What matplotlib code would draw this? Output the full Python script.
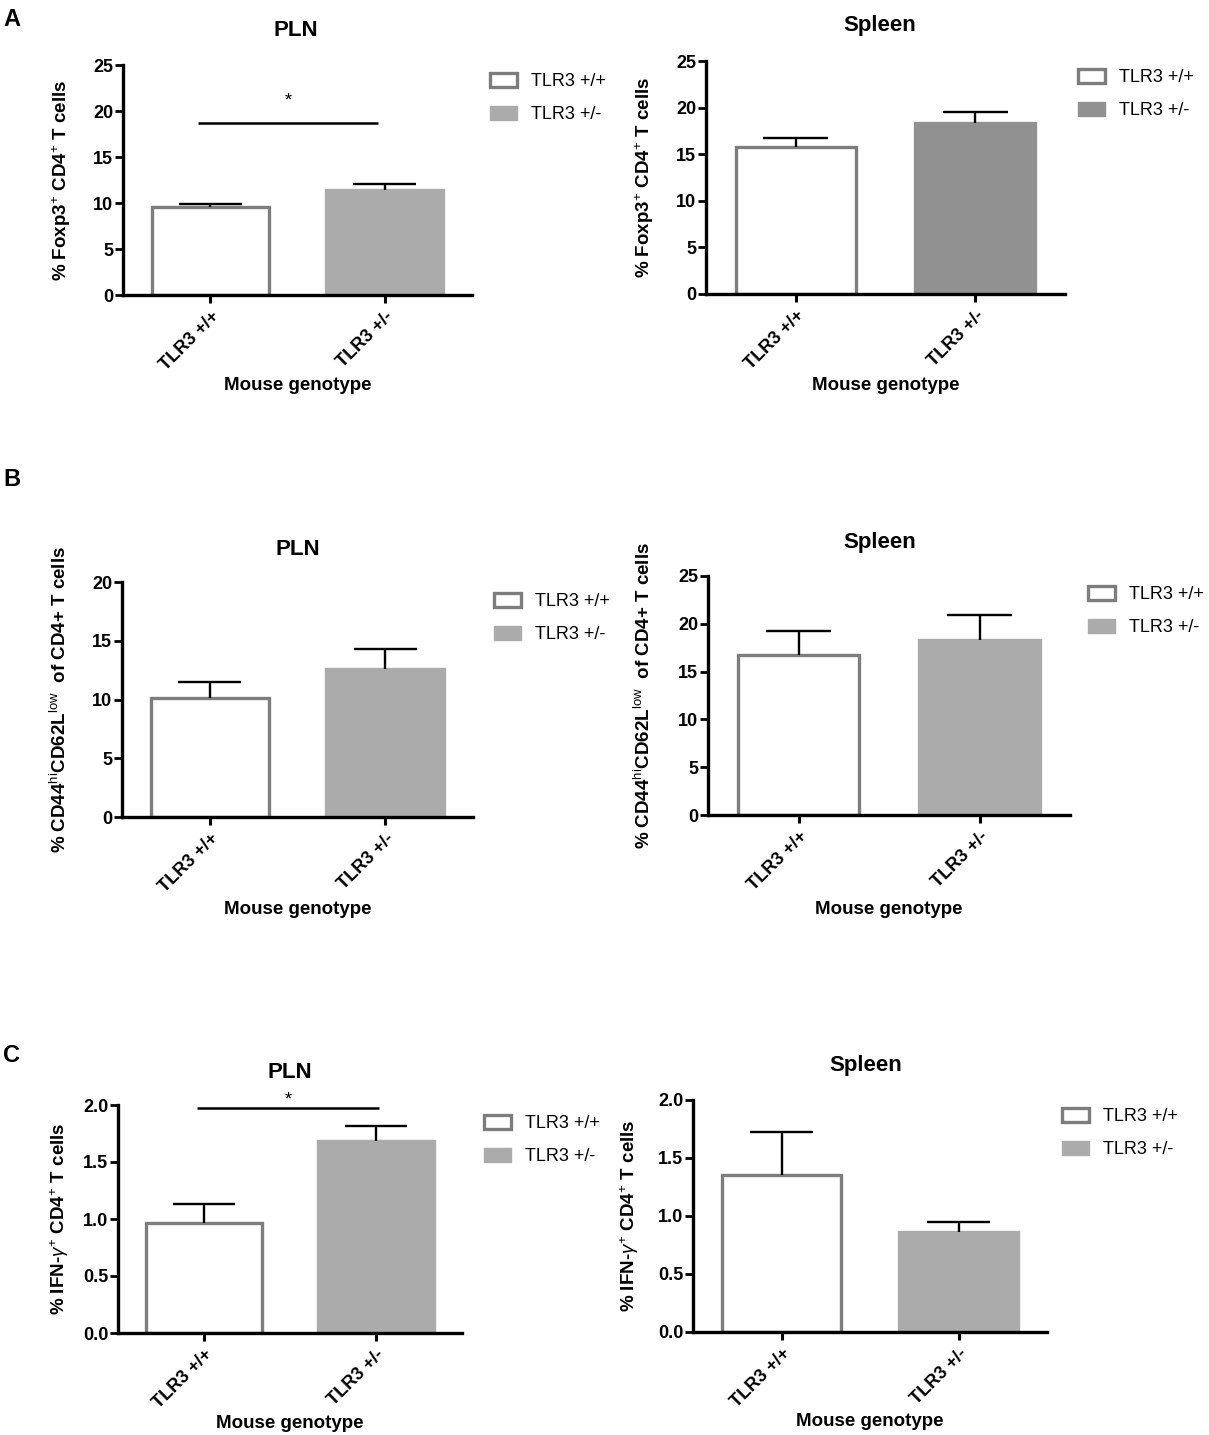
import matplotlib
matplotlib.use("Agg")
import matplotlib.pyplot as plt
from matplotlib.patches import Patch
import numpy as np

plt.rcParams['font.family'] = ['Liberation Sans', 'DejaVu Sans']
plt.rcParams['mathtext.fontset'] = 'custom'
plt.rcParams['mathtext.rm'] = 'Liberation Sans'
plt.rcParams['mathtext.it'] = 'Liberation Sans:italic'
plt.rcParams['mathtext.bf'] = 'Liberation Sans:bold'

# ---------------- data ----------------
groups = ['TLR3 +/+', 'TLR3 +/-']

foxp3_pln_mean = [9.6, 11.45]
foxp3_pln_sem = [0.3, 0.6]
foxp3_spleen_mean = [15.75, 18.3]
foxp3_spleen_sem = [0.95, 1.2]

cd44_pln_mean = [10.1, 12.6]
cd44_pln_sem = [1.35, 1.7]
cd44_spleen_mean = [16.7, 18.3]
cd44_spleen_sem = [2.5, 2.65]

ifng_pln_mean = [0.965, 1.68]
ifng_pln_sem = [0.165, 0.14]
ifng_spleen_mean = [1.35, 0.86]
ifng_spleen_sem = [0.37, 0.09]

foxp3_yticks = [0, 5, 10, 15, 20, 25]
cd44_pln_yticks = [0, 5, 10, 15, 20]
cd44_spleen_yticks = [0, 5, 10, 15, 20, 25]
ifng_yticks = [0.0, 0.5, 1.0, 1.5, 2.0]

# significance: (line level, star level, label)
sig_foxp3_pln = (18.7, 21.1, '*')
sig_ifng_pln = (1.97, 2.04, '*')

# ---------------- figure ----------------
W, H = 1209, 1435
fig = plt.figure(figsize=(W / 100, H / 100), dpi=100)

EDGE = '#7d7d7d'
FS = 13


def fx(px):
    return px / W


def fy(py):
    return 1 - py / H


def panel(L, R, y0, ytop, means, sems, yticks, fmt, color2, title, title_xy,
          ylabel, ylabel_x, xlabel_y, legend_xy, sig=None, sig_x=(-0.07, 0.96)):
    ax = fig.add_axes([fx(L), fy(y0), (R - L) / W, (y0 - ytop) / H])
    x = np.arange(len(groups))
    ax.bar(x, means, width=0.67, color=['white', color2],
           edgecolor=[EDGE, color2], linewidth=2.4, zorder=1)
    top = np.array(means) + np.array(sems)
    ax.vlines(x, means, top, color='black', lw=1.7, zorder=2)
    ax.hlines(top, x - 0.18, x + 0.18, color='black', lw=1.7, zorder=2)
    ax.set_xlim(-0.5, 1.5)
    ax.set_ylim(yticks[0], yticks[-1])
    ax.set_yticks(yticks)
    ax.set_yticklabels([fmt.format(t) for t in yticks], fontsize=FS, fontweight='bold')
    ax.set_xticks(x)
    ax.set_xticklabels(groups, rotation=45, ha='right', rotation_mode='anchor',
                       fontsize=FS, fontweight='bold')
    for s in ['top', 'right']:
        ax.spines[s].set_visible(False)
    for s in ['left', 'bottom']:
        ax.spines[s].set_linewidth(2.4)
    ax.tick_params(axis='y', direction='out', length=6, width=2, pad=1)
    ax.tick_params(axis='x', direction='out', length=6, width=2.2, pad=3)
    ax.set_facecolor('none')
    if sig is not None:
        ax.hlines(sig[0], sig_x[0], sig_x[1], color='black', lw=1.8)
        ax.text((sig_x[0] + sig_x[1]) / 2, sig[1], sig[2], ha='center', va='center',
                fontsize=FS, clip_on=False)
    fig.text(fx(title_xy[0]), fy(title_xy[1]), title, ha='center', va='center',
             fontsize=16, fontweight='bold')
    fig.text(fx(ylabel_x), fy((y0 + ytop) / 2), ylabel, rotation=90, ha='center',
             va='center', fontsize=13.5, fontweight='bold')
    fig.text(fx((L + R) / 2), fy(xlabel_y), 'Mouse genotype', ha='center',
             va='center', fontsize=13.5, fontweight='bold')
    handles = [Patch(facecolor='white', edgecolor=EDGE, linewidth=2.4),
               Patch(facecolor=color2, edgecolor=color2)]
    fig.legend(handles, groups, loc='upper left',
               bbox_to_anchor=(fx(legend_xy[0]), fy(legend_xy[1])),
               bbox_transform=fig.transFigure, frameon=False, fontsize=FS,
               borderpad=0, borderaxespad=0, handlelength=1.5, handleheight=0.85,
               handletextpad=0.75, labelspacing=0.85)
    return ax


lab_foxp3 = r'% Foxp3$^{+}$ CD4$^{+}$ T cells'
lab_cd44 = r'% CD44$^{\rm hi}$CD62L$^{\rm low}$  of CD4+ T cells'
lab_ifng = r'% IFN-$\gamma^{+}$ CD4$^{+}$ T cells'

# A
panel(123, 472, 295, 65, foxp3_pln_mean, foxp3_pln_sem, foxp3_yticks, '{:g}',
      '#ababab', 'PLN', (296, 30), lab_foxp3, 62, 386, (490, 73), sig=sig_foxp3_pln)
panel(706, 1065, 294, 61, foxp3_spleen_mean, foxp3_spleen_sem, foxp3_yticks, '{:g}',
      '#919191', 'Spleen', (880, 25), lab_foxp3, 645, 386, (1078, 69))
# B
panel(122, 473, 817, 582, cd44_pln_mean, cd44_pln_sem, cd44_pln_yticks, '{:g}',
      '#ababab', 'PLN', (298, 549), lab_cd44, 60, 909, (494, 593))
panel(708, 1070, 815, 576, cd44_spleen_mean, cd44_spleen_sem, cd44_spleen_yticks, '{:g}',
      '#ababab', 'Spleen', (880, 542), lab_cd44, 644, 910, (1088, 586))
# C
panel(118, 462, 1333, 1105, ifng_pln_mean, ifng_pln_sem, ifng_yticks, '{:.1f}',
      '#ababab', 'PLN', (290, 1072), lab_ifng, 60, 1423, (484, 1115), sig=sig_ifng_pln,
      sig_x=(-0.04, 1.02))
panel(693, 1047, 1332, 1100, ifng_spleen_mean, ifng_spleen_sem, ifng_yticks, '{:.1f}',
      '#ababab', 'Spleen', (866, 1066), lab_ifng, 630, 1422, (1062, 1108))

for letter, ypx in [('A', 20), ('B', 480), ('C', 1055)]:
    fig.text(fx(3), fy(ypx), letter, ha='left', va='center', fontsize=17, fontweight='bold')

fig.savefig('out.png', dpi=100)
